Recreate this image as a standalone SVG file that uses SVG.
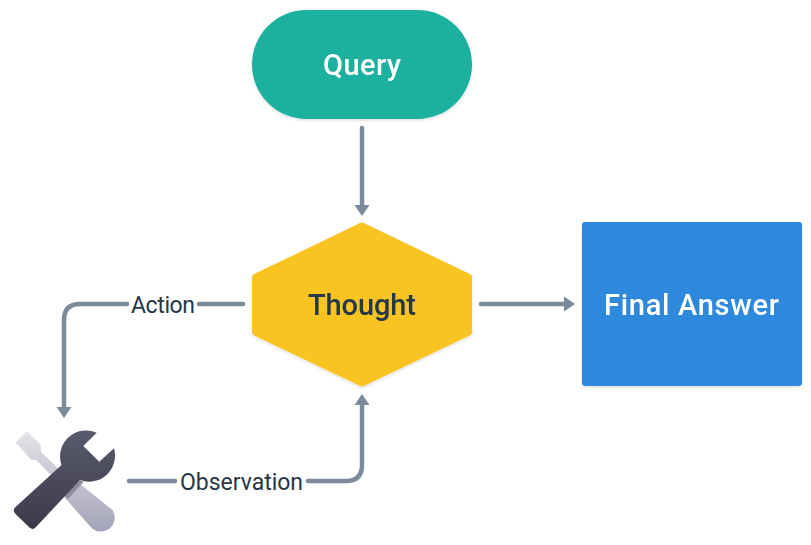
<svg xmlns="http://www.w3.org/2000/svg" width="811" height="545" viewBox="0 0 811 545">
<style>
.c{fill:none;stroke:#7b8b9a;stroke-width:4.500;stroke-linecap:round}
.w{font-family:"Roboto","Liberation Sans",sans-serif;font-weight:500;fill:#fff;font-size:29px}
.d{font-family:"Roboto","Liberation Sans",sans-serif;font-weight:500;fill:#253746;font-size:29px}
.l{font-family:"Roboto","Liberation Sans",sans-serif;font-weight:400;fill:#253746;font-size:23px}
.n{filter:url(#s)}
</style>
<defs>
<marker id="a" markerUnits="userSpaceOnUse" markerWidth="12" markerHeight="16" refX="1" refY="8" orient="auto"><path d="M0 0.500L11 8L0 15.500Z" fill="#7b8b9a"/></marker>
<filter id="s" x="-10%" y="-10%" width="120%" height="125%"><feDropShadow dx="0" dy="1.500" stdDeviation="1.500" flood-color="#000" flood-opacity=".13"/></filter>
<linearGradient id="g1" x1="0" y1="0" x2="0" y2="1"><stop offset="0" stop-color="#e4e4e9"/><stop offset="1" stop-color="#a3a3b8"/></linearGradient>
<linearGradient id="g2" x1="0" y1="0" x2="0" y2="1"><stop offset="0" stop-color="#5a5a6e"/><stop offset="1" stop-color="#3a3a4a"/></linearGradient>
</defs>
<g id="connectors">
<path class="c" marker-end="url(#a)" d="M362 128V206"/>
<path class="c" marker-end="url(#a)" d="M481 304H565"/>
<path class="c" d="M243 304H199"/>
<path class="c" marker-end="url(#a)" d="M127 304H80Q64 304 64 320V408"/>
<path class="c" d="M129 481H175"/>
<path class="c" marker-end="url(#a)" d="M308 481H346Q362 481 362 465V404"/>
</g>
<g id="query" class="n"><rect x="252" y="10" width="220" height="109" rx="54.500" fill="#1ab09e"/><text class="w" x="323" y="75" textLength="78" lengthAdjust="spacing">Query</text></g>
<g id="thought" class="n"><path fill="#f9c424" stroke="#f9c424" stroke-width="6" stroke-linejoin="round" d="M362 225.500L469 277V332.500L362 383.500L255 332.500V277Z"/><text class="d" x="308" y="315" textLength="108" lengthAdjust="spacing">Thought</text></g>
<g id="final-answer" class="n"><rect x="582" y="222" width="220" height="164" rx="3" fill="#2e89dc"/><text class="w" x="604" y="315" textLength="175" lengthAdjust="spacing">Final Answer</text></g>
<g id="tools">
<path fill="url(#g1)" d="M15.500 442.500L25.500 432.500Q27 431 28.500 432.500L40.700 445L41 452L62 472L80 484L112.500 510A14 14 0 0 1 92 528.500L65 498L58 482L36 460L31 459.500Z"/>
<path fill="#8d8d9f" d="M80 480L83.500 482L68 499L64.500 495.500Z"/>
<path fill="url(#g2)" d="M96.700 432.700L83.300 446L99.300 461.700L114 448.300A26 26 0 0 1 80 480L36 527Q33 530.500 29.500 527.500L15.500 514Q12 510 15.500 507L61.500 465A26 26 0 0 1 96.700 432.700Z"/>
</g>
<g id="labels">
<text class="l" x="131" y="312.500" textLength="64" lengthAdjust="spacing">Action</text>
<text class="l" x="180" y="489.500" textLength="123" lengthAdjust="spacing">Observation</text>
</g>
</svg>
